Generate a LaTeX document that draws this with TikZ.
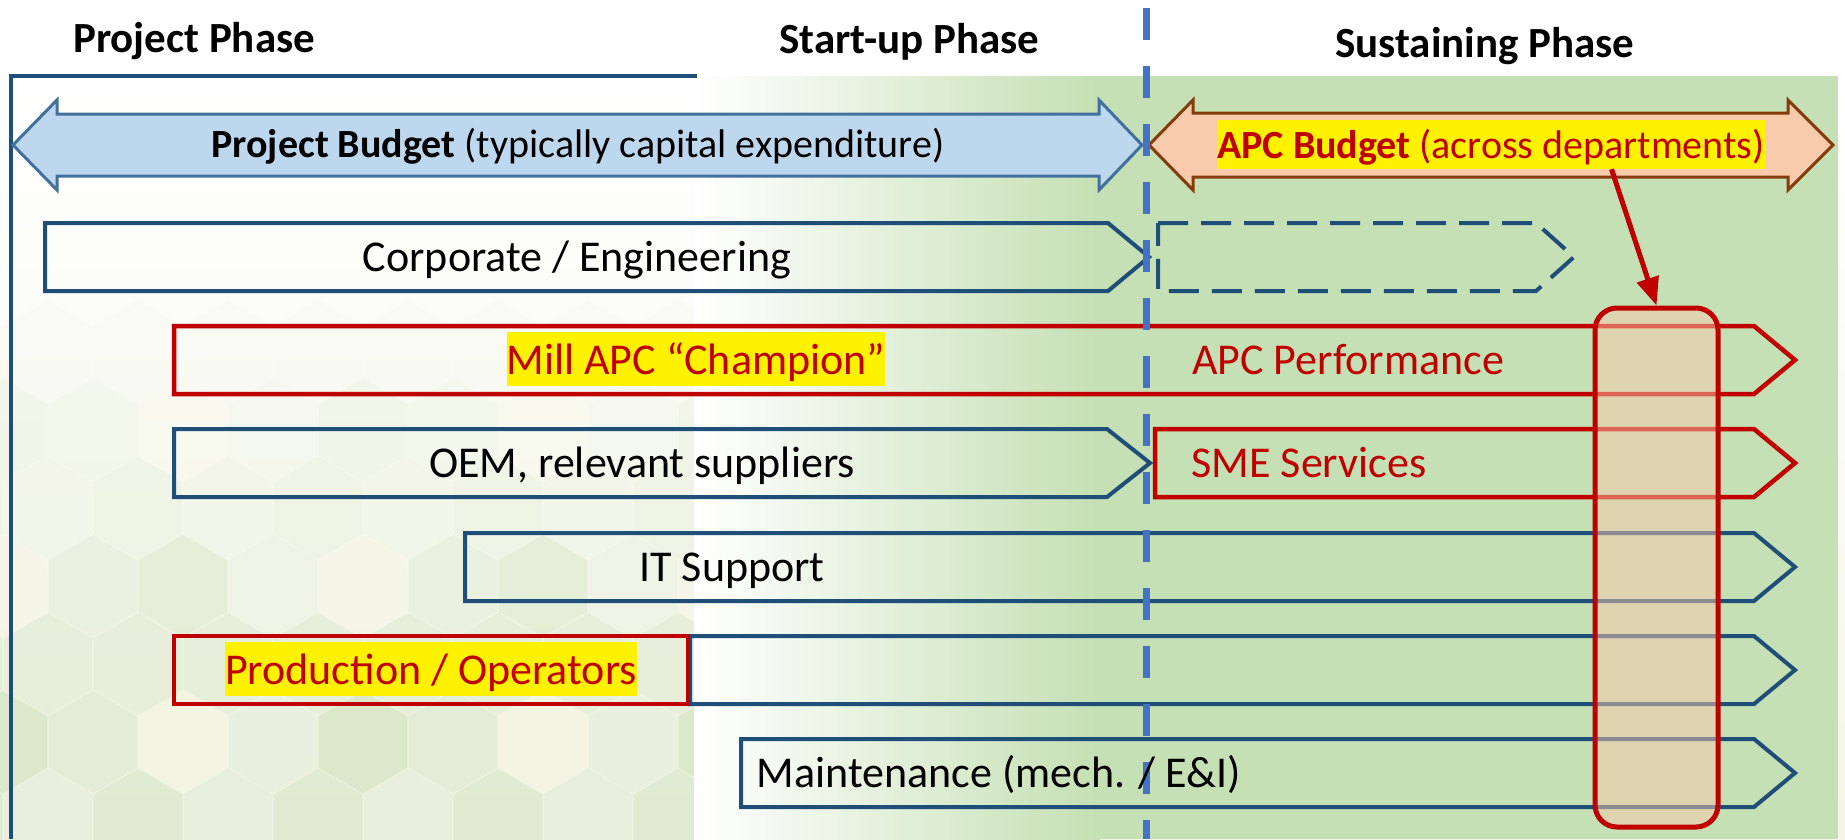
\documentclass[tikz,border=0pt]{standalone}
\usepackage{fontspec}
\setmainfont{Carlito}
\usetikzlibrary{calc,arrows.meta}

\definecolor{laneblue}{HTML}{1F4E79}
\definecolor{apcred}{HTML}{C00000}
\definecolor{budgetfill}{HTML}{BDD7EE}
\definecolor{budgetline}{HTML}{41719C}
\definecolor{apcfill}{HTML}{F8CBAD}
\definecolor{apcline}{HTML}{843C0C}
\definecolor{sustgreen}{HTML}{C5E0B4}
\definecolor{phaseblue}{HTML}{4472C4}
\definecolor{paper}{HTML}{F5F6E8}
\definecolor{hexA}{HTML}{D2E3C0}
\definecolor{hexB}{HTML}{DDE9CF}
\definecolor{hexC}{HTML}{F3F3E0}
\definecolor{hexD}{HTML}{E6EEDB}

\begin{document}
\begin{tikzpicture}[x=1pt,y=-1pt,
  title/.style={font=\fontsize{43}{50}\selectfont\bfseries, inner sep=0pt},
  lanetext/.style={font=\fontsize{44}{53}\selectfont, inner sep=0pt},
  budgettext/.style={font=\fontsize{40}{48}\selectfont, inner sep=0pt},
  hlbig/.style={fill=yellow, text height=42pt, text depth=12pt},
  hlsmall/.style={fill=yellow, text height=38pt, text depth=11pt},
  bluelane/.style={draw=laneblue, line width=4pt, line join=miter},
  redlane/.style={draw=apcred, line width=4.5pt, line join=miter},
  budgetarrow/.style={draw=budgetline, fill=budgetfill, line width=3pt, line join=miter},
  apcarrow/.style={draw=apcline, fill=apcfill, line width=3pt, line join=miter},
  frameline/.style={draw=laneblue, line width=3.5pt},
  phaseline/.style={draw=phaseblue, line width=7pt, dash pattern=on 32pt off 26pt},
  focusbox/.style={draw=apcred, line width=5pt, fill=apcfill, fill opacity=0.5,
    rounded corners=22pt, minimum width=123pt, minimum height=519pt, inner sep=0pt},
  focusarrow/.style={draw=apcred, line width=5pt, -{Triangle[length=28pt,width=22pt]}}
]
\useasboundingbox (0,0) rectangle (1845,839);
\fill[white] (0,0) rectangle (1845,839);

% pale backdrop below the header
\shade[top color=white, bottom color=paper] (0,76) rectangle (1845,839);

% soft hexagon tiling on the left
\begin{scope}
  \clip (0,76) rectangle (694,839);
  \foreach \r in {-1,...,10}{
    \foreach \c in {-1,...,8}{
      \pgfmathsetmacro{\cx}{\c*90+mod(\r+10,2)*45+3}
      \pgfmathsetmacro{\cy}{118+\r*78}
      \pgfmathtruncatemacro{\k}{mod(\r*7+\c*5+\r*\c+40,4)}
      \pgfmathsetmacro{\op}{min(0.85,max(0,(\cy-300)/600))}
      \ifcase\k \def\hc{hexA}\or\def\hc{hexB}\or\def\hc{hexC}\or\def\hc{hexD}\fi
      \fill[\hc, opacity=\op] (\cx,\cy) +(30:51.5) -- +(90:51.5) -- +(150:51.5)
        -- +(210:51.5) -- +(270:51.5) -- +(330:51.5) -- cycle;
    }
  }
\end{scope}

% sustaining-phase background
\shade[left color=white, right color=sustgreen] (694,76) rectangle (1100,839);
\fill[sustgreen] (1099,76) rectangle (1838,839);

% project frame
\draw[frameline] (697,76) -- (11,76) -- (11,839);

% budget arrows
\draw[budgetarrow] (13,145) -- (57,100) -- (57,114) -- (1099,114) -- (1099,100)
  -- (1142,145) -- (1099,190) -- (1099,176) -- (57,176) -- (57,190) -- cycle;
\draw[apcarrow] (1149,145) -- (1193,100) -- (1193,113) -- (1788,113) -- (1788,100)
  -- (1833,145) -- (1788,190) -- (1788,177) -- (1193,177) -- (1193,190) -- cycle;

% lanes
\draw[bluelane] (45,223) -- (1108,223) -- (1149,257) -- (1108,291) -- (45,291) -- cycle;
\draw[bluelane, dash pattern=on 30pt off 13pt] (1158,223) -- (1536,223) -- (1574,257)
  -- (1536,291) -- (1158,291) -- cycle;
\draw[redlane] (174,326) -- (1754,326) -- (1795,360) -- (1754,394) -- (174,394) -- cycle;
\draw[bluelane] (174,429) -- (1107,429) -- (1150,463) -- (1107,497) -- (174,497) -- cycle;
\draw[redlane] (1155,429) -- (1754,429) -- (1795,463) -- (1754,497) -- (1155,497) -- cycle;
\draw[bluelane] (465,533) -- (1754,533) -- (1795,567) -- (1754,601) -- (465,601) -- cycle;
\draw[bluelane] (690,636) -- (1754,636) -- (1795,670) -- (1754,704) -- (690,704) -- cycle;
\draw[redlane] (174,636) rectangle (688,704);
\draw[bluelane] (741,739) -- (1754,739) -- (1795,773) -- (1754,807) -- (741,807) -- cycle;

% phase boundary
\coordinate (ptop) at (1146,8);
\coordinate (pbot) at (1146,839);
\draw[phaseline] (ptop) -- (pbot);

% headings
\node[title, anchor=base west] (tproject) at (73,52) {Project Phase};
\node[title, anchor=base west] (tstartup) at (779,53) {Start-up Phase};
\node[title, anchor=base west] (tsustain) at (1335,57) {Sustaining Phase};

% budget labels
\node[budgettext, anchor=base] (projbudget) at (578,157)
  {\textbf{Project Budget} (typically capital expenditure)};
\node[budgettext, hlsmall, text=apcred, anchor=base] (apcbudget) at (1491,158)
  {\textbf{APC Budget} (across departments)};

% lane labels
\node[lanetext, anchor=base] (corp) at (577,271) {Corporate / Engineering};
\node[lanetext, hlbig, text=apcred, anchor=base] (champ) at (696,374) {Mill APC “Champion”};
\node[lanetext, text=apcred, anchor=base] (perf) at (1348,374) {APC Performance};
\node[lanetext, anchor=base] (oem) at (642,477) {OEM, relevant suppliers};
\node[lanetext, text=apcred, anchor=base] (sme) at (1309,477) {SME Services};
\node[lanetext, anchor=base] (itsup) at (732,581) {IT Support};
\node[lanetext, hlbig, text=apcred, anchor=base] (prod) at (431,684) {Production / Operators};
\node[lanetext, anchor=base] (maint) at (999,787) {Maintenance (mech. / E\&I)};

% sustaining budget focus
\node[focusbox] (focus) at (1656.5,567.5) {};
\draw[focusarrow] ($(apcbudget.south west)!0.72!(apcbudget.south east)$) -- (focus.north);
\end{tikzpicture}
\end{document}
